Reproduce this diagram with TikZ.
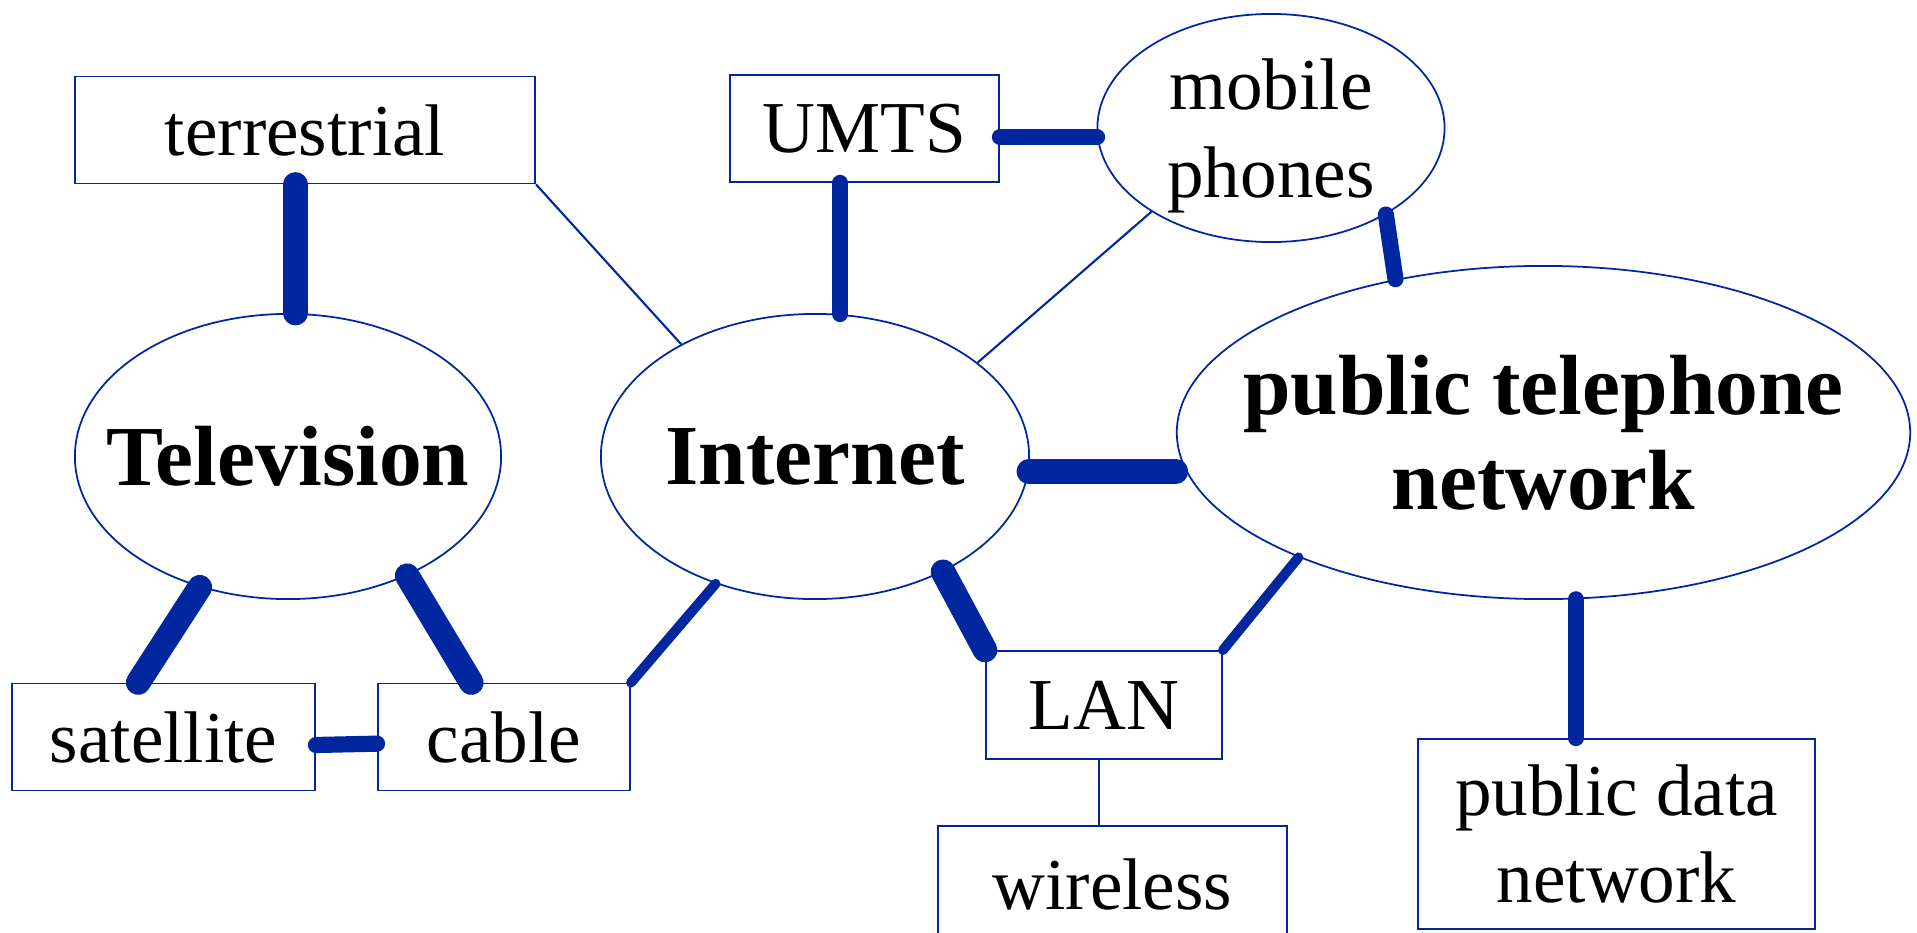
\documentclass[tikz,border=0pt]{standalone}
\usepackage{fontspec}
\setmainfont{Liberation Serif}
\usetikzlibrary{shapes.geometric}
\definecolor{netblue}{RGB}{0,38,160}

\begin{document}
\begin{tikzpicture}[x=0.01cm,y=-0.01cm,
    box/.style={draw=netblue,line width=0.5pt,rectangle,inner sep=0pt,align=center,font=\fontsize{20.8}{25}\selectfont},
    bubble/.style={draw=netblue,line width=0.5pt,ellipse,inner sep=0pt},
    bigtxt/.style={font=\fontsize{24.3}{27}\selectfont\bfseries,align=center},
    smalltxt/.style={font=\fontsize{20.8}{25}\selectfont,align=center},
    heavyline/.style={draw=netblue,line width=7pt,line cap=round},
    boldline/.style={draw=netblue,line width=4.6pt,line cap=round},
    midline/.style={draw=netblue,line width=2.8pt,line cap=round},
    hairline/.style={draw=netblue,line width=0.6pt}]
    \useasboundingbox (0,0) rectangle (1917,933);

    % Boxes and clouds
    \node[box,minimum width=4.6cm,minimum height=1.07cm] (terr) at (305,130) {terrestrial};
    \node[box,minimum width=2.69cm,minimum height=1.07cm] (umts) at (864.5,128.5) {UMTS};
    \node[bubble,minimum width=3.47cm,minimum height=2.28cm,
          label={[smalltxt,yshift=-0.08cm]center:mobile\\phones}] (mob) at (1271,128) {};
    \node[bubble,minimum width=4.26cm,minimum height=2.85cm,
          label={[bigtxt]center:Television}] (tv) at (288,456.5) {};
    \node[bubble,minimum width=4.28cm,minimum height=2.85cm,
          label={[bigtxt]center:Internet}] (inet) at (815,456.5) {};
    \node[bubble,minimum width=7.33cm,minimum height=3.33cm,
          label={[bigtxt]center:public telephone\\network}] (ptn) at (1543.5,432.5) {};
    \node[box,minimum width=3.03cm,minimum height=1.07cm] (sat) at (163.5,737) {satellite};
    \node[box,minimum width=2.52cm,minimum height=1.07cm] (cable) at (504,737) {cable};
    \node[box,minimum width=2.36cm,minimum height=1.08cm] (lan) at (1104,705) {LAN};
    \node[box,minimum width=3.49cm,minimum height=1.16cm] (wire) at (1112.5,884) {wireless};
    \node[box,minimum width=3.97cm,minimum height=1.9cm] (pdn) at (1616.5,834) {public data\\network};

    % Heavy links
    \draw[heavyline] (tv.87) -- (tv.87 |- terr.south);
    \draw[heavyline] (inet.-4) -- (ptn.west |- inet.-4);
    \draw[heavyline] (tv.236) -- (sat.115);
    \draw[heavyline] (tv.-45) -- (cable.121);
    \draw[heavyline] (inet.-42) -- (lan.north west);

    % Bold links
    \draw[boldline] (inet.80) -- (inet.80 |- umts.south);
    \draw[boldline] (umts.east |- mob.183) -- (mob.183);
    \draw[boldline] (mob.-37) -- (ptn.134);
    \draw[boldline] (sat.-3) -- (cable.183);
    \draw[boldline] (ptn.-79) -- (ptn.-79 |- pdn.north);

    % Medium links
    \draw[midline] (cable.north east) -- (inet.232);
    \draw[midline] (lan.north east) -- (ptn.207);

    % Thin links
    \draw[hairline] (terr.south east) -- (inet.140);
    \draw[hairline] (mob.215) -- (inet.30);
    \draw[hairline] (lan.-95) -- (lan.-95 |- wire.north);
\end{tikzpicture}
\end{document}
